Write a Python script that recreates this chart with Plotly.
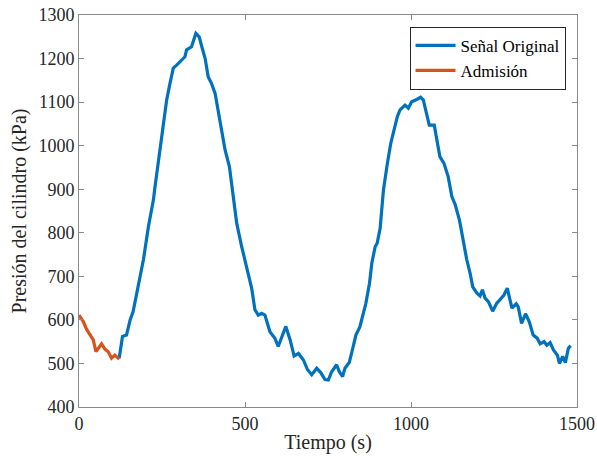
import plotly.graph_objects as go

# Admisión (orange) segment
adm_t = [0, 13, 23, 35, 43, 51, 58, 68, 78, 88, 98, 108, 121]
adm_p = [611, 596, 578, 563, 554, 527, 535, 545, 533, 527, 512, 519, 510]

# Señal Original (blue)
sig_t = [121, 131, 143, 154, 163, 174, 184, 194, 209, 224, 229, 242, 252, 264, 274, 284, 294,
         309, 319, 324, 339, 352, 362, 370, 380, 389, 399, 410, 420, 430, 440, 453, 463, 475,
         490, 505, 520, 530, 540, 550, 560, 575, 590, 600, 611, 623, 636, 648, 661, 676, 688,
         701, 716, 728, 741, 751, 761, 776, 784, 794, 801, 814, 826, 834, 846, 856, 864, 875,
         882, 892, 898, 907, 917, 929, 939, 949, 959, 967, 982, 992, 1002, 1017, 1029, 1037,
         1047, 1055, 1070, 1077, 1087, 1099, 1112, 1123, 1133, 1146, 1158, 1168, 1178, 1186,
         1198, 1208, 1215, 1223, 1233, 1246, 1258, 1268, 1280, 1290, 1304, 1317, 1323, 1333,
         1345, 1356, 1368, 1380, 1389, 1401, 1409, 1419, 1429, 1441, 1447, 1457, 1465, 1474, 1481]
sig_p = [512, 562, 565, 600, 619, 661, 703, 738, 814, 875, 906, 982, 1044, 1105, 1143, 1178, 1185,
         1197, 1204, 1220, 1227, 1258, 1250, 1227, 1200, 1158, 1143, 1120, 1074, 1036, 990, 952, 898, 822,
         768, 722, 673, 623, 611, 615, 611, 573, 558, 539, 562, 585, 554, 517, 523, 508, 486,
         474, 489, 479, 463, 462, 481, 497, 481, 470, 489, 502, 539, 565, 584, 615, 638, 684,
         730, 768, 776, 810, 898, 960, 1005, 1036, 1067, 1082, 1093, 1086, 1101, 1106, 1111, 1105,
         1074, 1047, 1047, 1013, 975, 960, 929, 883, 865, 829, 776, 738, 707, 676,
         662, 655, 669, 650, 642, 620, 638, 646, 657, 673, 627, 637, 630, 592,
         614, 596, 565, 558, 545, 550, 542, 548, 531, 519, 500, 516, 502, 535, 541]

x_ticks = [0, 500, 1000, 1500]
y_ticks = [400, 500, 600, 700, 800, 900, 1000, 1100, 1200, 1300]

SERIF = "Liberation Serif, Times New Roman, serif"

fig = go.Figure()
fig.add_trace(go.Scatter(x=sig_t, y=sig_p, mode="lines", name="Señal Original",
                         line=dict(color="#0072BD", width=3.2)))
fig.add_trace(go.Scatter(x=adm_t, y=adm_p, mode="lines", name="Admisión",
                         line=dict(color="#D95319", width=3.2)))

axis_common = dict(showline=True, linecolor="#8a8a8a", linewidth=1, mirror="ticks",
                   ticks="inside", ticklen=5, tickcolor="#8a8a8a", showgrid=False,
                   zeroline=False, automargin=False,
                   tickfont=dict(family=SERIF, size=18, color="#262626"))

fig.update_xaxes(range=[0, 1500], tickvals=x_ticks,
                 title=dict(text="Tiempo (s)", font=dict(family=SERIF, size=20, color="#262626"),
                            standoff=2),
                 **axis_common)
fig.update_yaxes(range=[400, 1300], tickvals=y_ticks,
                 title=dict(text="Presión del cilindro (kPa)", font=dict(family=SERIF, size=20, color="#262626"),
                            standoff=6),
                 **axis_common)

fig.update_layout(
    width=597, height=461,
    margin=dict(l=79, r=20, t=15, b=54),
    paper_bgcolor="white", plot_bgcolor="white",
    font=dict(family=SERIF, color="#262626"),
    legend=dict(x=0.977, y=0.97, xanchor="right", yanchor="top",
                bordercolor="#262626", borderwidth=1, bgcolor="white",
                font=dict(family=SERIF, size=17, color="#000000"),
                tracegroupgap=0, itemwidth=40),
)

fig.write_html("out.html", config={"displayModeBar": False},
               post_script="document.body.style.margin='0';document.body.style.overflow='hidden';")
